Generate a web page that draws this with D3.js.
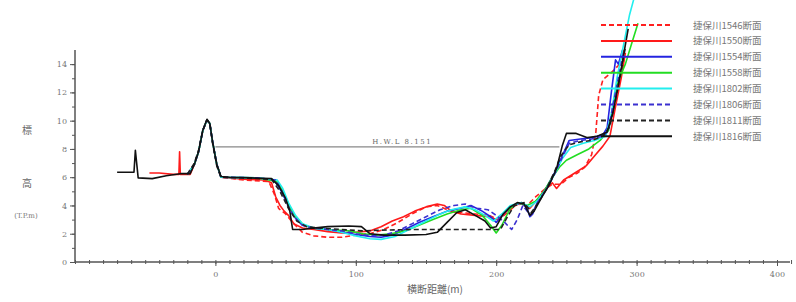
<!DOCTYPE html>
<html><head><meta charset="utf-8">
<script src="https://cdn.jsdelivr.net/npm/d3@7/dist/d3.min.js"></script>
<style>body{margin:0;background:#fff}svg{display:block}</style>
</head><body><svg id="c" width="796" height="302"></svg>
<script>
const seriesNames = ["捷保川1546断面","捷保川1550断面","捷保川1554断面","捷保川1558断面","捷保川1802断面","捷保川1806断面","捷保川1811断面","捷保川1816断面"];
const seriesColors = ["#ff2020","#ff1a1a","#2424e0","#22dd22","#22eeee","#3b30d0","#222222","#111111"];
const seriesDash = ["5,3","","","","","5,3","5,3",""];
const xTicks = [0,100,200,300,400];
const yTicks = [0,2,4,6,8,10,12,14];
const hwlValue = 8.151;
const hwlLabel = "H.W.L 8.151";
const hwlRange = [0, 245];

const s1546 = [[-20,6.2],[-15,6.9],[-12,7.8],[-9,9.3],[-6,10.05],[-4,9.8],[-2,8.5],[1,6.9],[4,6.0],[20,5.8],[38,5.7],[42,4.8],[45,3.8],[50,3.4],[55,2.8],[62,2.1],[70,1.85],[80,1.75],[90,1.75],[100,1.9],[110,2.0],[120,2.3],[130,2.8],[140,3.4],[150,3.9],[158,4.0],[165,3.7],[175,3.5],[185,3.4],[195,3.3],[202,3.0],[208,3.5],[215,4.1],[222,4.0],[228,4.6],[234,5.1],[240,5.5],[246,5.5],[252,6.0],[258,6.3],[263,6.7],[268,7.6],[271,9.2],[273,11.8],[276,12.9],[282,13.4],[287,13.9],[291,15.0]];
const s1550 = [[-47,6.3],[-40,6.3],[-30,6.2],[-26,6.2],[-25.5,7.8],[-25,6.2],[-18,6.2],[-15,6.9],[-12,7.8],[-9,9.3],[-6,10.05],[-4,9.8],[-2,8.5],[1,6.9],[4,6.0],[20,5.85],[35,5.8],[40,5.6],[43,4.6],[46,4.0],[49,3.6],[52,3.3],[56,2.7],[62,2.4],[70,2.3],[80,2.15],[90,2.05],[100,2.1],[110,2.2],[118,2.5],[126,2.9],[134,3.2],[142,3.6],[150,3.9],[158,4.1],[163,4.0],[168,3.6],[175,3.4],[185,3.3],[195,3.2],[200,3.0],[205,3.4],[212,3.9],[218,4.2],[224,3.8],[230,4.5],[236,5.3],[240,5.6],[243,5.2],[248,5.8],[256,6.3],[264,6.8],[270,7.5],[276,8.2],[281,8.9],[285,11.0],[289,13.0],[292,14.8]];
const s1554 = [[-20,6.2],[-15,6.9],[-12,7.8],[-9,9.3],[-6,10.05],[-4,9.8],[-2,8.5],[1,6.9],[4,6.0],[30,5.95],[42,5.8],[47,5.0],[52,4.0],[57,3.1],[62,2.6],[70,2.4],[80,2.3],[90,2.1],[100,1.95],[110,1.8],[118,1.75],[126,1.9],[135,2.3],[145,2.8],[155,3.2],[165,3.6],[175,3.8],[182,4.0],[190,3.6],[196,3.2],[200,2.8],[206,3.5],[212,4.0],[218,4.2],[222,3.8],[224,3.2],[226,3.4],[230,4.4],[236,5.3],[242,6.4],[247,7.5],[252,8.6],[260,8.7],[268,8.8],[276,9.0],[279,9.5],[282,12.0],[285,14.3],[287,14.0],[290,15.0]];
const s1558 = [[-20,6.2],[-15,6.9],[-12,7.8],[-9,9.3],[-6,10.05],[-4,9.8],[-2,8.5],[1,6.9],[4,6.0],[30,5.95],[44,5.7],[48,5.0],[52,4.1],[57,3.2],[63,2.6],[70,2.4],[80,2.3],[95,2.2],[105,2.0],[115,1.9],[125,2.0],[135,2.2],[145,2.6],[155,3.0],[165,3.4],[175,3.7],[182,3.8],[190,3.3],[196,2.6],[200,2.05],[204,2.6],[210,3.8],[216,4.2],[222,4.0],[228,4.3],[234,5.0],[240,6.0],[245,6.7],[250,7.2],[258,7.6],[266,8.0],[274,8.6],[280,9.3],[283,10.8],[286,12.5],[289,13.3],[292,14.0],[296,15.3],[301,16.9]];
const s1802 = [[-20,6.2],[-15,6.9],[-12,7.8],[-9,9.3],[-6,10.05],[-4,9.8],[-2,8.5],[1,6.9],[4,6.0],[30,5.95],[44,5.8],[48,5.2],[52,4.2],[57,3.3],[62,2.7],[70,2.4],[80,2.3],[90,2.1],[100,1.85],[110,1.65],[118,1.6],[128,1.8],[138,2.3],[148,2.8],[158,3.3],[168,3.7],[178,3.9],[185,3.7],[192,3.3],[198,2.9],[204,3.4],[210,4.0],[218,4.2],[224,3.9],[230,4.4],[236,5.2],[242,6.3],[247,7.3],[253,8.1],[262,8.4],[270,8.6],[278,8.9],[282,10.5],[286,13.0],[291,15.5],[295,17.5],[298,18.6]];
const s1806 = [[-20,6.2],[-15,6.9],[-12,7.8],[-9,9.3],[-6,10.05],[-4,9.8],[-2,8.5],[1,6.9],[4,6.0],[30,5.95],[43,5.8],[47,5.1],[51,4.1],[56,3.2],[62,2.6],[70,2.4],[80,2.3],[90,2.2],[100,2.0],[110,1.85],[120,1.9],[130,2.2],[140,2.7],[150,3.2],[160,3.7],[170,4.0],[178,4.1],[186,3.8],[194,3.7],[200,3.3],[206,2.8],[211,2.3],[215,3.0],[219,4.0],[222,3.6],[225,3.3],[230,4.3],[236,5.2],[242,6.3],[247,7.4],[252,8.4],[260,8.6],[268,8.7],[276,8.9],[280,9.3],[283,11.0],[287,13.0],[291,15.0]];
const s1811 = [[-20,6.2],[-15,7.0],[-12,7.9],[-9,9.3],[-6,10.05],[-4,9.8],[-2,8.4],[1,6.8],[4,6.0],[20,5.95],[40,5.85],[46,5.0],[52,3.8],[58,2.9],[65,2.5],[75,2.4],[90,2.3],[105,2.2],[116,2.25],[140,2.3],[170,2.3],[190,2.3],[203,2.3],[208,3.2],[213,4.0],[220,4.2],[225,3.5],[230,4.2],[236,5.2],[242,6.5],[246,7.5],[252,8.3],[260,8.5],[268,8.6],[276,8.9],[281,9.6],[285,11.5],[289,13.5],[292,15.2]];
const s1816 = [[-70,6.35],[-58,6.35],[-57,7.9],[-55,5.95],[-45,5.9],[-35,6.1],[-25,6.25],[-18,6.25],[-15,6.9],[-12,7.8],[-9,9.3],[-6,10.1],[-4,9.8],[-2,8.5],[1,6.9],[4,6.05],[10,6.0],[25,5.95],[40,5.9],[45,5.4],[50,4.5],[53,3.6],[55,2.3],[62,2.3],[70,2.4],[80,2.5],[95,2.55],[104,2.5],[110,2.0],[120,1.9],[135,1.9],[150,1.95],[158,2.1],[165,2.8],[172,3.5],[178,3.7],[185,3.3],[192,2.9],[196,2.4],[200,2.5],[205,3.4],[210,3.9],[215,4.2],[220,4.1],[224,3.3],[227,3.6],[232,4.5],[238,5.5],[243,6.6],[247,8.2],[250,9.1],[257,9.1],[265,8.8],[272,8.9],[279,9.2],[283,10.5],[287,12.5],[291,14.8],[294,16.5]];
const seriesData = [s1546,s1550,s1554,s1558,s1802,s1806,s1811,s1816];

const svg = d3.select("#c");
const x = d3.scaleLinear().domain([-100,400]).range([75,777]);
const y = d3.scaleLinear().domain([0,15]).range([262,50]);
const axisColor = "#555";
const txtFont = "'DejaVu Serif', serif";

// Y axis
const gy = svg.append("g").attr("transform","translate(75,0)")
  .call(d3.axisLeft(y).tickValues(d3.range(0,15,1)).tickSize(3).tickFormat(""));
gy.selectAll("line").attr("stroke",axisColor);
gy.select(".domain").attr("stroke",axisColor).attr("stroke-width",1.5).attr("d","M0,262V50");
const gy2 = svg.append("g").attr("transform","translate(75,0)")
  .call(d3.axisLeft(y).tickValues(yTicks).tickSize(5).tickPadding(3).tickFormat(d3.format("d")));
gy2.select(".domain").remove();
gy2.selectAll("line").attr("stroke",axisColor);
gy2.selectAll("text").attr("fill","#777").style("font-size","8px").style("font-family",txtFont);

// X axis
const gx = svg.append("g").attr("transform","translate(0,262)")
  .call(d3.axisBottom(x).tickValues(d3.range(-100,411,10)).tickSize(2).tickFormat(""));
gx.select(".domain").attr("stroke",axisColor).attr("stroke-width",1.5).attr("d","M75,0H790");
gx.selectAll(".tick line").attr("stroke",axisColor).attr("y1",-2);
const gx2 = svg.append("g").attr("transform","translate(0,262)")
  .call(d3.axisBottom(x).tickValues(xTicks).tickSize(4).tickPadding(5).tickFormat(d3.format("d")));
gx2.select(".domain").remove();
gx2.selectAll("line").attr("stroke",axisColor);
gx2.selectAll("text").attr("fill","#777").style("font-size","8px").style("font-family",txtFont);

// axis titles
svg.append("text").attr("x",435).attr("y",293).attr("text-anchor","middle")
  .attr("fill","#666").style("font-size","10px").style("font-family","'Noto Sans CJK JP'").text("横断距離(m)");
svg.append("text").attr("x",27).attr("y",134).attr("text-anchor","middle")
  .attr("fill","#666").style("font-size","10px").style("font-family","'Noto Sans CJK JP'").text("標");
svg.append("text").attr("x",27).attr("y",187).attr("text-anchor","middle")
  .attr("fill","#666").style("font-size","10px").style("font-family","'Noto Sans CJK JP'").text("高");
svg.append("text").attr("x",26).attr("y",218).attr("text-anchor","middle")
  .attr("fill","#777").style("font-size","7px").style("font-family",txtFont).text("(T.P.m)");

// HWL
svg.append("line").attr("x1",x(hwlRange[0])).attr("x2",x(hwlRange[1]))
  .attr("y1",y(hwlValue)).attr("y2",y(hwlValue)).attr("stroke","#888").attr("stroke-width",1.2);
svg.append("text").attr("x",x(133)).attr("y",y(hwlValue)-3).attr("text-anchor","middle")
  .attr("fill","#666").style("font-size","7px").style("letter-spacing","1.5px").style("font-family",txtFont).text(hwlLabel);

// series
const line = d3.line().x(d=>x(d[0])).y(d=>y(d[1]));
seriesData.forEach((data,i)=>{
  svg.append("path").datum(data).attr("d",line).attr("fill","none")
    .attr("stroke",seriesColors[i]).attr("stroke-width",1.6)
    .attr("stroke-dasharray",seriesDash[i]||null).attr("stroke-linejoin","round");
});

// legend
const lg = svg.append("g");
seriesNames.forEach((n,i)=>{
  const yy = 25 + i*15.9;
  lg.append("line").attr("x1",601).attr("x2",672).attr("y1",yy).attr("y2",yy)
    .attr("stroke",seriesColors[i]).attr("stroke-width",2).attr("stroke-dasharray",seriesDash[i]||null);
  lg.append("text").attr("x",693).attr("y",yy+3.5).attr("fill","#777")
    .style("font-size","9.5px").style("font-family","'Noto Sans CJK JP'").text(n);
});
</script></body></html>
